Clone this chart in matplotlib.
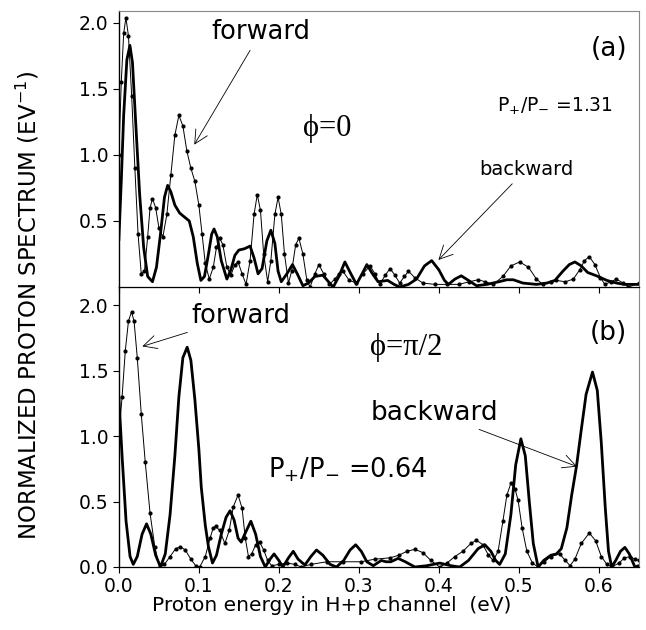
import numpy as np
import matplotlib
matplotlib.use("Agg")
import matplotlib.pyplot as plt

plt.rcParams['font.family'] = ['DejaVu Sans']
plt.rcParams['mathtext.fontset'] = 'dejavusans'

# phi = 0 : forward (thin, dotted) and backward (thick) proton spectra
fa_x = [0.000, 0.003, 0.006, 0.0088, 0.012, 0.016, 0.020, 0.024, 0.028, 0.032, 0.036, 0.039, 0.042,
        0.046, 0.050, 0.055, 0.060, 0.065, 0.070, 0.075, 0.080, 0.085, 0.090, 0.095, 0.100, 0.104,
        0.108, 0.113, 0.118, 0.122, 0.126, 0.130, 0.135, 0.140, 0.145, 0.149, 0.154, 0.159, 0.164,
        0.169, 0.173, 0.177, 0.181, 0.186, 0.190, 0.195, 0.199, 0.203, 0.207, 0.212, 0.216, 0.221,
        0.225, 0.230, 0.235, 0.239, 0.245, 0.250, 0.256, 0.263, 0.270, 0.275, 0.280, 0.288, 0.297,
        0.305, 0.314, 0.320, 0.326, 0.333, 0.339, 0.345, 0.351, 0.357, 0.362, 0.370, 0.380, 0.395,
        0.410, 0.425, 0.438, 0.449, 0.458, 0.468, 0.480, 0.490, 0.501, 0.512, 0.522, 0.530, 0.540,
        0.547, 0.558, 0.568, 0.576, 0.582, 0.588, 0.595, 0.602, 0.6075, 0.615, 0.622, 0.630, 0.637, 0.650]
fa_y = [1.00, 1.55, 1.92, 2.04, 1.90, 1.45, 0.90, 0.40, 0.10, 0.12, 0.38, 0.60, 0.67,
        0.60, 0.45, 0.38, 0.55, 0.85, 1.15, 1.30, 1.22, 1.03, 0.90, 0.80, 0.62, 0.40,
        0.18, 0.06, 0.15, 0.30, 0.37, 0.32, 0.15, 0.09, 0.17, 0.19, 0.10, 0.02, 0.20,
        0.55, 0.70, 0.58, 0.25, 0.04, 0.20, 0.55, 0.68, 0.55, 0.25, 0.03, 0.12, 0.32,
        0.37, 0.25, 0.05, 0.00, 0.10, 0.17, 0.10, 0.02, 0.06, 0.10, 0.12, 0.05, 0.03,
        0.10, 0.16, 0.10, 0.02, 0.09, 0.14, 0.09, 0.03, 0.08, 0.12, 0.07, 0.03, 0.02,
        0.02, 0.02, 0.04, 0.055, 0.04, 0.02, 0.08, 0.16, 0.19, 0.15, 0.06, 0.02, 0.04,
        0.05, 0.04, 0.06, 0.13, 0.20, 0.23, 0.17, 0.07, 0.02, 0.04, 0.06, 0.03, 0.00, 0.03]

ba_x = [0.000, 0.003, 0.006, 0.010, 0.0138, 0.017, 0.021, 0.026, 0.031, 0.036, 0.042, 0.047, 0.052,
        0.057, 0.061, 0.065, 0.070, 0.076, 0.082, 0.088, 0.093, 0.098, 0.1025, 0.107, 0.112, 0.116,
        0.119, 0.123, 0.128, 0.135, 0.140, 0.145, 0.150, 0.157, 0.164, 0.169, 0.174, 0.179, 0.185,
        0.190, 0.195, 0.199, 0.203, 0.210, 0.217, 0.223, 0.230, 0.237, 0.245, 0.255, 0.262, 0.268,
        0.275, 0.2825, 0.290, 0.297, 0.304, 0.310, 0.317, 0.324, 0.336, 0.344, 0.351, 0.362, 0.372,
        0.382, 0.391, 0.400, 0.407, 0.412, 0.420, 0.428, 0.437, 0.447, 0.460, 0.475, 0.485, 0.493,
        0.505, 0.522, 0.535, 0.545, 0.555, 0.563, 0.570, 0.578, 0.586, 0.597, 0.610, 0.622, 0.632, 0.650]
ba_y = [0.36, 0.80, 1.30, 1.72, 1.83, 1.70, 1.25, 0.70, 0.30, 0.08, 0.04, 0.15, 0.40,
        0.68, 0.77, 0.72, 0.62, 0.56, 0.53, 0.50, 0.38, 0.18, 0.05, 0.08, 0.25, 0.40,
        0.44, 0.38, 0.20, 0.06, 0.13, 0.24, 0.28, 0.29, 0.31, 0.22, 0.10, 0.14, 0.35,
        0.43, 0.33, 0.12, 0.04, 0.10, 0.17, 0.10, 0.01, 0.03, 0.08, 0.09, 0.04, 0.00,
        0.08, 0.19, 0.10, 0.02, 0.10, 0.17, 0.10, 0.04, 0.05, 0.02, 0.00, 0.02, 0.06,
        0.16, 0.20, 0.13, 0.05, 0.02, 0.06, 0.085, 0.05, 0.01, 0.02, 0.04, 0.055, 0.055,
        0.03, 0.02, 0.03, 0.05, 0.12, 0.17, 0.19, 0.16, 0.11, 0.085, 0.05, 0.03, 0.02, 0.02]

# phi = pi/2
fb_x = [0.000, 0.004, 0.008, 0.012, 0.0158, 0.019, 0.023, 0.028, 0.033, 0.039, 0.045, 0.051, 0.057,
        0.064, 0.071, 0.077, 0.083, 0.090, 0.096, 0.101, 0.108, 0.114, 0.118, 0.121, 0.126, 0.1325,
        0.138, 0.143, 0.149, 0.154, 0.158, 0.162, 0.166, 0.171, 0.176, 0.181, 0.186, 0.191, 0.200,
        0.210, 0.220, 0.228, 0.240, 0.260, 0.280, 0.303, 0.320, 0.339, 0.350, 0.360, 0.370, 0.380,
        0.390, 0.401, 0.410, 0.420, 0.430, 0.440, 0.447, 0.455, 0.462, 0.468, 0.474, 0.480, 0.485,
        0.490, 0.495, 0.499, 0.504, 0.510, 0.517, 0.524, 0.532, 0.540, 0.551, 0.558, 0.564, 0.570,
        0.578, 0.588, 0.596, 0.603, 0.610, 0.616, 0.625, 0.632, 0.639, 0.645, 0.650]
fb_y = [1.00, 1.30, 1.65, 1.88, 1.95, 1.88, 1.60, 1.17, 0.80, 0.41, 0.15, 0.00, 0.02,
        0.08, 0.14, 0.155, 0.13, 0.06, 0.01, 0.00, 0.08, 0.22, 0.30, 0.31, 0.28, 0.18,
        0.28, 0.46, 0.55, 0.45, 0.22, 0.08, 0.10, 0.17, 0.19, 0.13, 0.05, 0.01, 0.02,
        0.03, 0.02, 0.00, 0.02, 0.04, 0.04, 0.04, 0.06, 0.07, 0.09, 0.12, 0.135, 0.11,
        0.05, 0.00, 0.03, 0.08, 0.12, 0.18, 0.205, 0.17, 0.09, 0.05, 0.12, 0.35, 0.55,
        0.64, 0.60, 0.51, 0.30, 0.12, 0.03, 0.00, 0.04, 0.08, 0.10, 0.05, 0.01, 0.06,
        0.18, 0.26, 0.20, 0.08, 0.02, 0.00, 0.03, 0.07, 0.08, 0.06, 0.05]

bb_x = [0.000, 0.004, 0.009, 0.014, 0.018, 0.023, 0.029, 0.0346, 0.040, 0.046, 0.052, 0.058, 0.064,
        0.070, 0.075, 0.080, 0.0854, 0.090, 0.095, 0.100, 0.103, 0.108, 0.112, 0.117, 0.122, 0.128,
        0.134, 0.139, 0.144, 0.149, 0.153, 0.158, 0.165, 0.171, 0.177, 0.183, 0.189, 0.194, 0.200,
        0.205, 0.212, 0.218, 0.224, 0.2325, 0.240, 0.247, 0.255, 0.264, 0.272, 0.281, 0.289, 0.296,
        0.303, 0.310, 0.318, 0.323, 0.328, 0.334, 0.340, 0.349, 0.358, 0.370, 0.385, 0.401, 0.415,
        0.426, 0.437, 0.449, 0.4575, 0.465, 0.471, 0.476, 0.483, 0.490, 0.496, 0.5025, 0.508, 0.513,
        0.518, 0.524, 0.531, 0.540, 0.547, 0.553, 0.560, 0.566, 0.572, 0.578, 0.584, 0.592, 0.598,
        0.603, 0.608, 0.612, 0.616, 0.621, 0.627, 0.6325, 0.638, 0.645, 0.650]
bb_y = [1.30, 0.85, 0.35, 0.08, 0.02, 0.08, 0.25, 0.33, 0.25, 0.09, 0.00, 0.10, 0.40,
        0.85, 1.30, 1.60, 1.68, 1.58, 1.28, 0.90, 0.61, 0.32, 0.155, 0.03, 0.09, 0.25,
        0.38, 0.43, 0.36, 0.22, 0.19, 0.26, 0.35, 0.25, 0.08, 0.00, 0.06, 0.10, 0.05,
        0.00, 0.07, 0.12, 0.06, 0.015, 0.08, 0.13, 0.09, 0.02, 0.00, 0.05, 0.13, 0.17,
        0.12, 0.04, 0.01, 0.03, 0.05, 0.04, 0.04, 0.066, 0.04, 0.00, 0.01, 0.03, 0.01,
        0.00, 0.05, 0.14, 0.17, 0.12, 0.05, 0.02, 0.10, 0.40, 0.78, 0.98, 0.85, 0.50,
        0.18, 0.00, 0.05, 0.09, 0.10, 0.14, 0.30, 0.55, 0.77, 1.05, 1.32, 1.49, 1.35,
        0.95, 0.45, 0.12, 0.00, 0.05, 0.12, 0.15, 0.10, 0.00, 0.01]

xticks = [0.0, 0.1, 0.2, 0.3, 0.4, 0.5, 0.6]

fig = plt.figure(figsize=(6.46, 6.30), dpi=100)
L, W = 0.184, 0.805
ax2 = fig.add_axes([L, 0.10, W, 0.4444])
ax1 = fig.add_axes([L, 0.5444, W, 0.4381])

def draw(ax, fx, fy, bx, by, ymax):
    ax.plot(fx, fy, color='black', lw=0.7, marker='o', ms=2.0, mfc='black', mec='black')
    ax.plot(bx, by, color='black', lw=2.0)
    ax.set_xlim(0, 0.65)
    ax.set_ylim(0, ymax)
    ax.set_xticks(xticks)
    for s in ('top', 'right'):
        ax.spines[s].set_color('#888888')
        ax.spines[s].set_linewidth(0.8)
    ax.spines['bottom'].set_linewidth(0.9)
    ax.spines['left'].set_linewidth(1.0)
    ax.tick_params(direction='out', length=4, width=0.8, labelsize=13.5, colors='black')

draw(ax1, fa_x, fa_y, ba_x, ba_y, 2.09)
draw(ax2, fb_x, fb_y, bb_x, bb_y, 2.14)

ax1.set_yticks([0.5, 1.0, 1.5, 2.0])
ax1.set_yticklabels(['0.5', '1.0', '1.5', '2.0'])
ax1.tick_params(axis='x', labelbottom=False)
ax2.set_yticks([0.0, 0.5, 1.0, 1.5, 2.0])
ax2.set_yticklabels(['0.0', '0.5', '1.0', '1.5', '2.0'])
ax2.set_xticklabels(['%.1f' % t for t in xticks])

arrow = dict(arrowstyle='->', color='black', lw=0.6, mutation_scale=24)
serif = ['Liberation Serif', 'DejaVu Serif']
ratio = r'P$_{\mathregular{+}}$/P$_{\mathregular{-}}$ ='

# panel (a)
ax1.annotate('forward', xy=(0.0925, 1.06), xytext=(0.1775, 1.93), ha='center', va='center',
             fontsize=18.5, arrowprops=arrow)
ax1.annotate('backward', xy=(0.397, 0.19), xytext=(0.509, 0.89), ha='center', va='center',
             fontsize=14, arrowprops=arrow)
ax1.text(0.635, 1.80, '(a)', ha='right', va='center', fontsize=19)
ax1.text(0.4725, 1.37, ratio + '1.31', ha='left', va='center', fontsize=13.5)
ax1.text(0.23, 1.20, 'ϕ=0', ha='left', va='center', fontsize=22, family=serif)

# panel (b)
ax2.annotate('forward', xy=(0.026, 1.68), xytext=(0.1525, 1.92), ha='center', va='center',
             fontsize=18.5, arrowprops=arrow)
ax2.annotate('backward', xy=(0.576, 0.76), xytext=(0.395, 1.18), ha='center', va='center',
             fontsize=19, arrowprops=arrow)
ax2.text(0.635, 1.79, '(b)', ha='right', va='center', fontsize=19)
ax2.text(0.186, 0.74, ratio + '0.64', ha='left', va='center', fontsize=18.5)
ax2.text(0.314, 1.68, 'ϕ=π/2', ha='left', va='center', fontsize=22, family=serif)

fig.text(0.043, 0.515, r'NORMALIZED PROTON SPECTRUM (EV$^{\mathregular{-1}}$)', rotation=90,
         ha='center', va='center', fontsize=16.5)
ax2.set_xlabel('Proton energy in H+p channel  (eV)', fontsize=14.5, labelpad=0, x=0.41)

fig.savefig('out.png', dpi=100)
